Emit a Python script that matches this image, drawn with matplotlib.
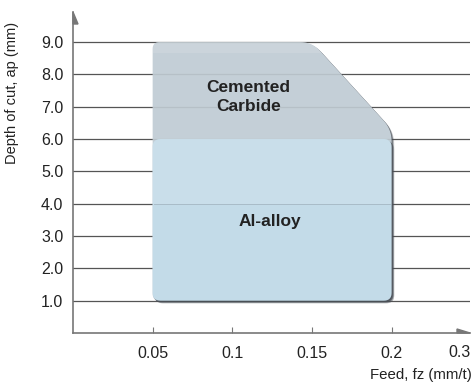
import numpy as np
import matplotlib
matplotlib.use("Agg")
import matplotlib.pyplot as plt
from matplotlib.patches import Polygon, Rectangle

plt.rcParams['font.family'] = ['Liberation Sans', 'DejaVu Sans']

# Tick values
feed_ticks = [0.05, 0.1, 0.15, 0.2]
feed_tick_labels = ["0.05", "0.1", "0.15", "0.2"]
feed_end_label = "0.3"
depth_ticks = [1, 2, 3, 4, 5, 6, 7, 8, 9]
depth_tick_labels = ["1.0", "2.0", "3.0", "4.0", "5.0", "6.0", "7.0", "8.0", "9.0"]

# Application regions (feed, depth) outlines
carbide_feed = [0.05, 0.2, 0.2, 0.15, 0.05]
carbide_depth = [1.0, 1.0, 6.3, 9.0, 9.0]
alloy_feed = [0.05, 0.2, 0.2, 0.05]
alloy_depth = [1.0, 1.0, 6.0, 6.0]

W, H, DPI = 475, 385, 100
fig = plt.figure(figsize=(W / DPI, H / DPI), dpi=DPI)
ax = fig.add_axes([73 / W, 1 - 333 / H, (470 - 73) / W, (333 - 12) / H])
ax.set_xlim(0, (470 - 73) / 1593)
ax.set_ylim(0, 321 / 32.33)

axis_col = "#777777"
txt_col = "#222222"
for s in ("top", "right"):
    ax.spines[s].set_visible(False)
for s in ("left", "bottom"):
    ax.spines[s].set_color(axis_col)
    ax.spines[s].set_linewidth(1.2)
    ax.spines[s].set_zorder(6)

# gridlines
for d in depth_ticks:
    ax.axhline(d, color="#555555", lw=0.9, zorder=1)

ax.set_yticks(depth_ticks)
ax.set_yticklabels(depth_tick_labels)
ax.tick_params(axis="y", length=0, pad=7, labelsize=11.5, labelcolor=txt_col)
ax.set_xticks(feed_ticks)
ax.set_xticklabels(feed_tick_labels)
ax.tick_params(axis="x", direction="in", length=4, width=0.8, color=axis_col,
               pad=9, labelsize=11.5, labelcolor=txt_col)

# end-of-axis label
ax.text(0.2425, -0.06, feed_end_label, transform=ax.get_xaxis_transform(),
        ha="center", va="center", fontsize=11.5, color=txt_col)

# half-arrow heads on axes
aw, ah = 397.0, 321.0
ax.add_patch(Polygon([(0, 1), (5 / aw, 1 - 12 / ah), (0, 1 - 12 / ah)],
                     closed=True, transform=ax.transAxes, color=axis_col,
                     clip_on=False, zorder=7))
ax.add_patch(Polygon([(1, 0), (1 - 13 / aw, 4 / ah), (1 - 13 / aw, 0)],
                     closed=True, transform=ax.transAxes, color=axis_col,
                     clip_on=False, zorder=7))


def rounded(xs, ys, radii, dx=0.0, dy=0.0, n=10):
    pts = ax.transData.transform(np.column_stack([xs, ys]))
    out = []
    N = len(pts)
    for i in range(N):
        p = pts[i]
        a = pts[i - 1]
        b = pts[(i + 1) % N]
        r = radii[i]
        da = (a - p) / np.linalg.norm(a - p)
        db = (b - p) / np.linalg.norm(b - p)
        s = p + da * r
        e = p + db * r
        for t in np.linspace(0, 1, n):
            out.append((1 - t) ** 2 * s + 2 * t * (1 - t) * p + t ** 2 * e)
    out = np.array(out) + np.array([dx, dy])
    return ax.transData.inverted().transform(out)


def region(xs, ys, radii, face, z):
    for off, al in ((2.6, 0.25), (1.8, 0.45), (1.0, 0.6)):
        ax.add_patch(Polygon(rounded(xs, ys, radii, off, -off), closed=True,
                             facecolor="#4a5058", edgecolor="none", alpha=al,
                             zorder=z))
    body = Polygon(rounded(xs, ys, radii), closed=True, facecolor=face,
                   edgecolor="none", zorder=z + 0.5)
    ax.add_patch(body)
    return body


carbide = region(carbide_feed, carbide_depth, [7, 8, 12, 12, 7], "#c4cfd7", 2)
band = Rectangle((0.0, 8.65), 0.3, 1.0, facecolor="white", alpha=0.12,
                 edgecolor="none", zorder=2.7)
ax.add_patch(band)
band.set_clip_path(carbide)
# gridlines faintly visible through the carbide region
for d in depth_ticks:
    gl = ax.axhline(d, color="#555555", lw=0.9, alpha=0.12, zorder=2.8)
    gl.set_clip_path(carbide)

alloy = region(alloy_feed, alloy_depth, [8, 8, 8, 8], "#c3dbe8", 3)
band2 = Rectangle((0.0, 4.0), 0.3, 2.5, facecolor="white", alpha=0.1,
                  edgecolor="none", zorder=3.7)
ax.add_patch(band2)
band2.set_clip_path(alloy)
ax.plot([0.051, 0.199], [4.0, 4.0], color="#a9bcc8", lw=0.7, zorder=3.8)

ax.text(0.11, 7.3, "Cemented\nCarbide", ha="center", va="center",
        fontsize=12.5, fontweight="bold", color=txt_col, linespacing=1.4,
        zorder=5)
ax.text(0.1235, 3.45, "Al-alloy", ha="center", va="center",
        fontsize=12.5, fontweight="bold", color=txt_col, zorder=5)

fig.text(12 / W, 1 - 93 / H, "Depth of cut, ap (mm)", rotation=90,
         ha="center", va="center", fontsize=10.5, color=txt_col)
fig.text(472 / W, 1 - 375 / H, "Feed, fz (mm/t)", ha="right", va="center",
         fontsize=10.8, color=txt_col)

fig.savefig("out.png", dpi=DPI)
